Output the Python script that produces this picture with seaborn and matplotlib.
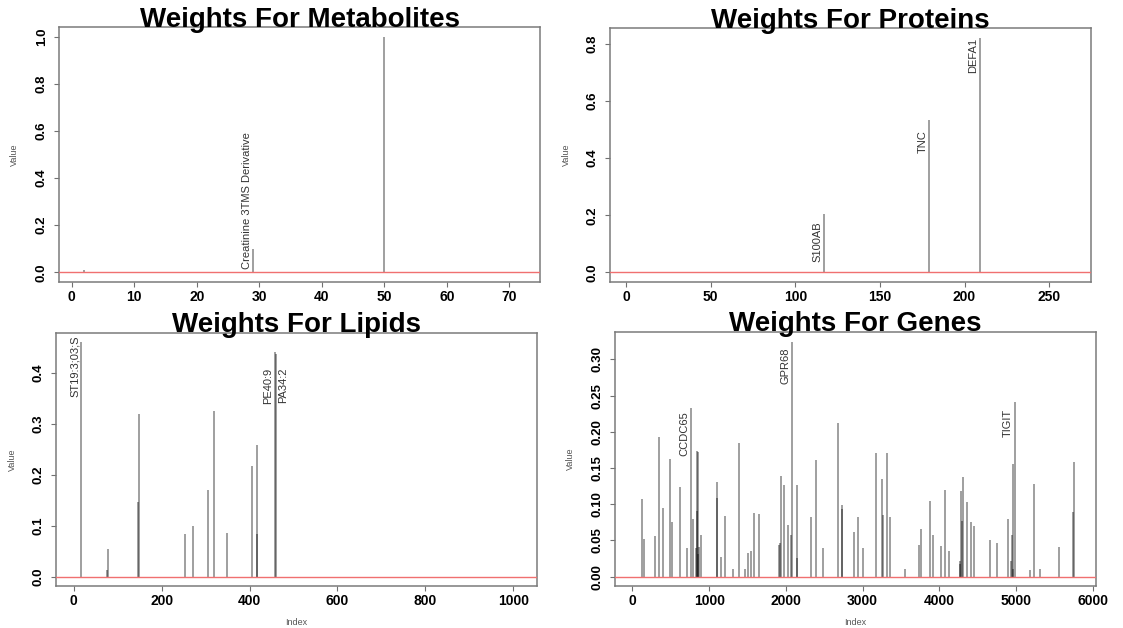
import numpy as np
import pandas as pd
import matplotlib
matplotlib.use("Agg")
import matplotlib.pyplot as plt
from matplotlib.ticker import FormatStrFormatter
import seaborn as sns

# ---------------- data ----------------
met_idx = [2, 29, 50]
met_val = [0.011, 0.100, 1.000]
met_lab_idx = [29]
met_lab_txt = ["Creatinine 3TMS Derivative"]

prot_idx = [117, 179, 209]
prot_val = [0.206, 0.534, 0.822]
prot_lab_idx = [117, 179, 209]
prot_lab_txt = ["S100AB", "TNC", "DEFA1"]

lip_idx = [17, 76, 77, 147, 148, 254, 271, 305, 319, 348, 405, 416, 417, 457, 461]
lip_val = [0.460, 0.013, 0.055, 0.146, 0.319, 0.083, 0.099, 0.169, 0.325,
           0.086, 0.216, 0.084, 0.258, 0.440, 0.437]
lip_lab_idx = [17, 457, 461]
lip_lab_txt = ["ST19:3;03;S", "PE40:9", "PA34:2"]

gene_idx = [122, 152, 291, 352, 404, 483, 513, 626, 709, 761, 783, 822, 835, 839,
            852, 858, 865, 891, 1100, 1102, 1152, 1200, 1304, 1387, 1470, 1509, 1544,
            1583, 1652, 1904, 1926, 1935, 1970, 2022, 2065, 2083, 2144, 2150, 2331,
            2387, 2483, 2674, 2726, 2730, 2887, 2939, 3000, 3179, 3257, 3270, 3318,
            3362, 3549, 3728, 3759, 3877, 3916, 4025, 4068, 4130, 4269, 4275, 4282,
            4290, 4304, 4361, 4409, 4457, 4653, 4757, 4893, 4930, 4941, 4954, 4962,
            4980, 5176, 5237, 5311, 5564, 5739, 5760]
gene_val = [0.107, 0.052, 0.056, 0.193, 0.095, 0.163, 0.076, 0.124, 0.040, 0.233,
            0.080, 0.039, 0.091, 0.173, 0.172, 0.031, 0.041, 0.058, 0.130, 0.108,
            0.027, 0.084, 0.011, 0.184, 0.010, 0.033, 0.035, 0.088, 0.086, 0.044,
            0.047, 0.139, 0.126, 0.071, 0.058, 0.324, 0.126, 0.025, 0.082, 0.161,
            0.040, 0.212, 0.099, 0.094, 0.062, 0.083, 0.039, 0.171, 0.135, 0.085,
            0.171, 0.083, 0.010, 0.044, 0.066, 0.105, 0.057, 0.042, 0.120, 0.035,
            0.017, 0.022, 0.118, 0.077, 0.137, 0.103, 0.076, 0.070, 0.050, 0.046,
            0.079, 0.022, 0.057, 0.156, 0.011, 0.241, 0.009, 0.128, 0.010, 0.041,
            0.089, 0.159]
gene_lab_idx = [761, 2083, 4980]
gene_lab_txt = ["CCDC65", "GPR68", "TIGIT"]

titles = ["Weights For Metabolites", "Weights For Proteins",
          "Weights For Lipids", "Weights For Genes"]

# ---------------- style ----------------
sns.set_theme(style="white")
plt.rcParams['font.family'] = ['Liberation Sans', 'DejaVu Sans']

fig = plt.figure(figsize=(11.23, 6.28), dpi=100)

panels = [
    dict(idx=met_idx, val=met_val, lab_idx=met_lab_idx, lab_txt=met_lab_txt,
         rect=(0.0528, 0.5514, 0.4281, 0.4051), xlim=(-2.0, 74.9), ylim=(-0.04, 1.04),
         xticks=np.arange(0, 71, 10), yticks=np.arange(0, 1.01, 0.2), yfmt="%.1f",
         xlabel=False,
         lab_pos=[dict(y=0.016, va="bottom", side="left")]),
    dict(idx=prot_idx, val=prot_val, lab_idx=prot_lab_idx, lab_txt=prot_lab_txt,
         rect=(0.5435, 0.5514, 0.4278, 0.4035), xlim=(-9.3, 274.6), ylim=(-0.0329, 0.855),
         xticks=np.arange(0, 251, 50), yticks=np.arange(0, 0.81, 0.2), yfmt="%.1f",
         xlabel=False,
         lab_pos=[dict(y=0.179, va="top", side="left"),
                  dict(y=0.50, va="top", side="left"),
                  dict(y=0.82, va="top", side="left")]),
    dict(idx=lip_idx, val=lip_val, lab_idx=lip_lab_idx, lab_txt=lip_lab_txt,
         rect=(0.0502, 0.0669, 0.4278, 0.4033), xlim=(-39.5, 1053.5), ylim=(-0.0184, 0.4784),
         xticks=np.arange(0, 1001, 200), yticks=np.arange(0, 0.41, 0.1), yfmt="%.1f",
         xlabel=True,
         lab_pos=[dict(y=0.472, va="top", side="left"),
                  dict(y=0.41, va="top", side="left"),
                  dict(y=0.41, va="top", side="right")]),
    dict(idx=gene_idx, val=gene_val, lab_idx=gene_lab_idx, lab_txt=gene_lab_txt,
         rect=(0.5476, 0.0669, 0.4283, 0.4045), xlim=(-228, 6040), ylim=(-0.013, 0.338),
         xticks=np.arange(0, 6001, 1000), yticks=np.arange(0, 0.301, 0.05), yfmt="%.2f",
         xlabel=True,
         lab_pos=[dict(y=0.229, va="top", side="left"),
                  dict(y=0.3165, va="top", side="left"),
                  dict(y=0.2317, va="top", side="left")]),
]

for p, title in zip(panels, titles):
    ax = fig.add_axes(p["rect"])
    df = pd.DataFrame({"Index": p["idx"], "Value": p["val"]})
    ax.vlines(df["Index"], 0, df["Value"], colors="black", alpha=0.48, linewidth=1.1)
    ax.axhline(0, color="#f07070", linewidth=1.0, zorder=3)
    ax.set_xlim(*p["xlim"])
    ax.set_ylim(*p["ylim"])
    ax.set_xticks(p["xticks"])
    ax.set_yticks(p["yticks"])
    ax.yaxis.set_major_formatter(FormatStrFormatter(p["yfmt"]))
    ax.xaxis.set_major_formatter(FormatStrFormatter("%d"))
    ax.tick_params(axis="both", which="major", direction="out", length=3.6, width=0.8,
                   color="#707070", labelcolor="black", bottom=True, left=True)
    ax.tick_params(axis="x", pad=2.5, labelsize=10)
    ax.tick_params(axis="y", pad=4.8, labelsize=9.5, labelrotation=90)
    for lbl in ax.get_yticklabels():
        lbl.set_va("center")
        lbl.set_fontweight("bold")
    for lbl in ax.get_xticklabels():
        lbl.set_fontweight("bold")
    for s in ax.spines.values():
        s.set_visible(True)
        s.set_color("#7a7a7a")
        s.set_linewidth(1.1)
    ax.set_ylabel("Value", fontsize=6.5, color="#555555")
    ax.yaxis.set_label_coords(-0.083, 0.5)
    if p["xlabel"]:
        ax.set_xlabel("Index", fontsize=6.5, color="#555555")
        ax.xaxis.set_label_coords(0.5, -0.125)
    ax.set_title(title, fontsize=20, fontweight="bold", color="black", pad=0.5)
    ax.grid(False)

    for xi, txt, lp in zip(p["lab_idx"], p["lab_txt"], p["lab_pos"]):
        if lp["side"] == "left":
            ha, dx = "right", -1.0
        else:
            ha, dx = "left", 1.5
        ax.annotate(txt, xy=(xi, lp["y"]), xytext=(dx, 0), textcoords="offset points",
                    rotation=90, ha=ha, va=lp["va"], fontsize=8, color="#333333")

fig.savefig("out.png", dpi=100)
